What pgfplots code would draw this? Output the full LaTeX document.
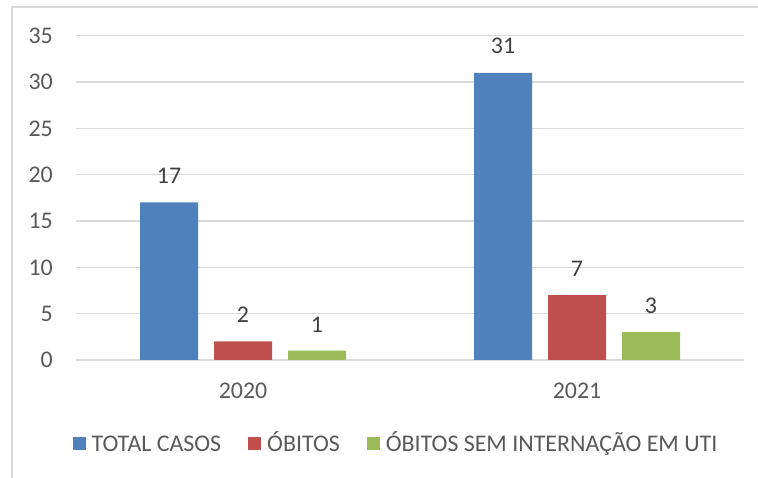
\documentclass[border=0pt]{standalone}
\usepackage{pgfplots}
\pgfplotsset{compat=1.18}
\usepackage{fontspec}
\setmainfont{Carlito}
\definecolor{cblue}{HTML}{4F81BD}
\definecolor{cred}{HTML}{C0504D}
\definecolor{cgreen}{HTML}{9BBB59}
\definecolor{gridgray}{HTML}{D9D9D9}
\definecolor{tickgray}{HTML}{595959}
\definecolor{labelgray}{HTML}{404040}
\begin{document}
\fontsize{24}{28}\selectfont
\begin{tikzpicture}
\path[use as bounding box] (0,0) rectangle (758bp,478bp);
\draw[gridgray, line width=1.2bp] (12bp,-5bp) |- (765bp,471bp);
\begin{axis}[
  at={(76bp,118bp)}, anchor=south west,
  scale only axis, width=668bp, height=324.3bp,
  xmin=-0.5, xmax=1.5, ymin=0, ymax=35,
  enlargelimits=false, clip=false,
  ybar=16bp, bar width=58bp,
  xtick={0,1}, xticklabels={2020,2021},
  ytick={0,5,...,35},
  major tick length=0pt,
  axis line style={draw=none},
  ymajorgrids, grid style={gridgray, line width=1.2bp},
  /pgf/number format/assume math mode=true,
  tick label style={font=\fontsize{24}{28}\selectfont, text=tickgray},
  yticklabel style={anchor=east, inner sep=0pt, xshift=-23bp},
  xticklabel style={anchor=north, inner sep=0pt, yshift=-23bp},
  nodes near coords,
  nodes near coords style={anchor=south, inner sep=0pt, yshift=18.5bp, text=labelgray, font=\fontsize{24}{28}\selectfont},
  legend columns=3,
  legend style={at={(0.479,-0.259)}, anchor=center, draw=none, fill=none,
    font=\fontsize{24}{28}\selectfont, text=tickgray,
    nodes={text height=16bp, text depth=0bp},
    /tikz/every odd column/.append style={column sep=4bp},
    /tikz/every even column/.append style={column sep=25bp}},
  sq/.style={legend image code/.code={\fill[##1] (0bp,-6.5bp) rectangle (13bp,6.5bp);}},
]
\addplot[fill=cblue, draw=none, sq] coordinates {(0,17) (1,31)};
\addplot[fill=cred, draw=none, sq] coordinates {(0,2) (1,7)};
\addplot[fill=cgreen, draw=none, sq] coordinates {(0,1) (1,3)};
\legend{TOTAL CASOS, ÓBITOS, ÓBITOS SEM INTERNAÇÃO EM UTI}
\end{axis}
\end{tikzpicture}
\end{document}
